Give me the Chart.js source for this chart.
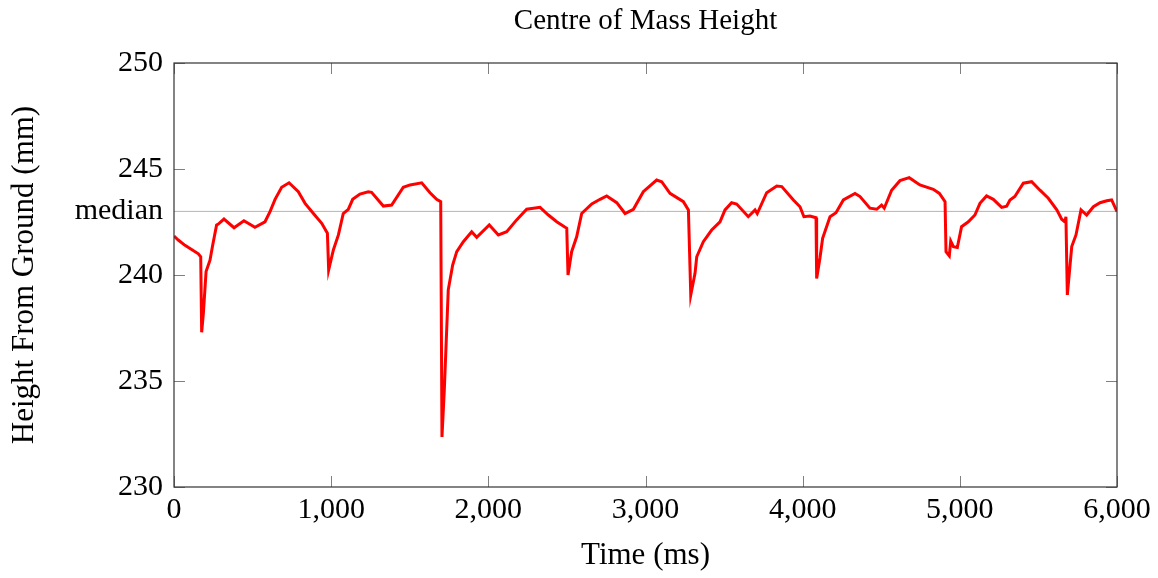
<!DOCTYPE html>
<html>
<head>
<meta charset="utf-8">
<script src="https://cdn.jsdelivr.net/npm/chart.js@4.4.0/dist/chart.umd.min.js"></script>
<style>
  body { margin: 0; background: #fff; }
  #wrap { width: 1158px; height: 578px; }
</style>
</head>
<body>
<div id="wrap"><canvas id="chart" width="1158" height="578"></canvas></div>
<script>
// time in ms
const times = [
  0, 27, 70, 112, 155, 170, 176, 187, 204, 229,
  246, 271, 282, 318, 382, 445, 515, 579, 611, 643,
  685, 732, 791, 834, 887, 940, 976, 984, 1014, 1046,
  1077, 1109, 1137, 1183, 1236, 1257, 1332, 1385, 1459, 1502,
  1576, 1629, 1671, 1697, 1705, 1720, 1745, 1773, 1799, 1841,
  1894, 1926, 2006, 2064, 2117, 2180, 2244, 2329, 2382, 2435,
  2499, 2507, 2530, 2562, 2594, 2658, 2711, 2753, 2817, 2870,
  2923, 2986, 3071, 3103, 3156, 3241, 3273, 3288, 3315, 3326,
  3368, 3421, 3474, 3506, 3548, 3580, 3654, 3697, 3711, 3771,
  3835, 3867, 3941, 3983, 4008, 4046, 4085, 4089, 4110, 4127,
  4174, 4212, 4259, 4333, 4365, 4428, 4471, 4502, 4519, 4566,
  4619, 4678, 4746, 4831, 4870, 4906, 4912, 4933, 4942, 4959,
  4984, 5011, 5054, 5096, 5128, 5170, 5213, 5266, 5298, 5319,
  5350, 5404, 5457, 5510, 5563, 5617, 5648, 5669, 5675, 5684,
  5712, 5739, 5771, 5807, 5850, 5892, 5935, 5966, 6000
];

// centre of mass height in mm
const heights = [
  241.84, 241.65, 241.4, 241.2, 241.0, 240.86, 237.3, 238.2, 240.16, 240.7,
  241.4, 242.36, 242.4, 242.64, 242.23, 242.56, 242.25, 242.51, 242.99, 243.57,
  244.14, 244.35, 243.93, 243.38, 242.9, 242.44, 241.97, 240.24, 241.18, 241.89,
  242.9, 243.1, 243.57, 243.82, 243.93, 243.9, 243.25, 243.3, 244.14, 244.25,
  244.35, 243.88, 243.57, 243.46, 232.36, 234.6, 239.3, 240.47, 241.1, 241.57,
  242.04, 241.78, 242.36, 241.89, 242.04, 242.6, 243.1, 243.19, 242.83, 242.51,
  242.2, 240.0, 241.1, 241.8, 242.9, 243.35, 243.57, 243.73, 243.41, 242.9,
  243.1, 243.93, 244.48, 244.4, 243.85, 243.46, 243.07, 239.06, 240.08, 240.86,
  241.57, 242.12, 242.51, 243.07, 243.41, 243.35, 242.75, 243.07, 242.9, 243.88,
  244.2, 244.17, 243.54, 243.22, 242.75, 242.78, 242.7, 239.84, 240.8, 241.73,
  242.75, 242.94, 243.54, 243.85, 243.7, 243.15, 243.1, 243.3, 243.15, 244.0,
  244.45, 244.59, 244.25, 244.04, 243.85, 243.46, 241.1, 240.9, 241.6, 241.34,
  241.3, 242.28, 242.51, 242.83, 243.38, 243.73, 243.57, 243.19, 243.25, 243.54,
  243.7, 244.33, 244.4, 244.0, 243.62, 243.07, 242.63, 242.5, 242.75, 239.06,
  241.34, 241.89, 243.07, 242.83, 243.22, 243.41, 243.5, 243.54, 242.99
];

const xTicks = [0, 1000, 2000, 3000, 4000, 5000, 6000];
const yTicks = [230, 235, 240, 245, 250];
const median = 243;
const chartTitle = 'Centre of Mass Height';

const serif = "'Liberation Serif', 'DejaVu Serif', serif";

// pgfplots-like frame: box, inward ticks on all sides, median grid line, title over plot area
const framePlugin = {
  id: 'frame',
  beforeDatasetsDraw(chart) {
    const { ctx, chartArea: a, scales: { y } } = chart;
    const py = y.getPixelForValue(median);
    ctx.save();
    ctx.strokeStyle = '#b4b4b4';
    ctx.lineWidth = 1;
    ctx.beginPath();
    ctx.moveTo(a.left, py);
    ctx.lineTo(a.right, py);
    ctx.stroke();
    ctx.restore();
  },
  afterDatasetsDraw(chart) {
    const { ctx, chartArea: a, scales: { x, y } } = chart;
    const len = 11;
    ctx.save();
    ctx.strokeStyle = '#808080';
    ctx.lineWidth = 1;
    ctx.beginPath();
    xTicks.forEach(v => {
      const px = Math.round(x.getPixelForValue(v)) + 0.5;
      ctx.moveTo(px, a.bottom); ctx.lineTo(px, a.bottom - len);
      ctx.moveTo(px, a.top); ctx.lineTo(px, a.top + len);
    });
    yTicks.forEach(v => {
      const py = Math.round(y.getPixelForValue(v)) + 0.5;
      ctx.moveTo(a.left, py); ctx.lineTo(a.left + len, py);
      ctx.moveTo(a.right, py); ctx.lineTo(a.right - len, py);
    });
    ctx.stroke();
    ctx.strokeStyle = '#333';
    ctx.lineWidth = 1.2;
    ctx.strokeRect(a.left, a.top, a.right - a.left, a.bottom - a.top);

    ctx.fillStyle = '#000';
    ctx.font = '29px ' + serif;
    ctx.textAlign = 'center';
    ctx.textBaseline = 'middle';
    ctx.fillText(chartTitle, (a.left + a.right) / 2, 21);
    ctx.restore();
  }
};

new Chart(document.getElementById('chart'), {
  type: 'line',
  data: {
    datasets: [{
      data: times.map((t, i) => ({ x: t, y: heights[i] })),
      borderColor: '#ff0000',
      borderWidth: 3,
      pointRadius: 0,
      tension: 0,
      fill: false
    }]
  },
  options: {
    responsive: false,
    animation: false,
    layout: { padding: { left: 0, right: 41, top: 63, bottom: 0 } },
    plugins: {
      legend: { display: false },
      tooltip: { enabled: false },
      title: { display: false }
    },
    scales: {
      x: {
        type: 'linear',
        min: 0,
        max: 6000,
        afterFit: s => { s.height = 91; },
        afterBuildTicks: s => { s.ticks = xTicks.map(v => ({ value: v })); },
        grid: { display: false, drawTicks: false },
        border: { display: false },
        ticks: {
          color: '#000',
          padding: 5,
          maxRotation: 0,
          font: { family: serif, size: 30 },
          callback: v => v.toLocaleString('en-US')
        },
        title: {
          display: true,
          text: 'Time (ms)',
          color: '#000',
          font: { family: serif, size: 31, lineHeight: 1.2 },
          padding: { top: 0, bottom: 4 }
        }
      },
      y: {
        min: 230,
        max: 250,
        afterFit: s => { s.width = 174; },
        afterBuildTicks: s => {
          s.ticks = yTicks.concat([median]).sort((p, q) => p - q).map(v => ({ value: v }));
        },
        grid: { display: false, drawTicks: false },
        border: { display: false },
        ticks: {
          color: '#000',
          padding: 11,
          font: { family: serif, size: 30 },
          callback: v => (v === median ? 'median' : v)
        },
        title: {
          display: true,
          text: 'Height From Ground (mm)',
          color: '#000',
          font: { family: serif, size: 31, lineHeight: 1.2 },
          padding: { top: 6, bottom: 0 }
        }
      }
    }
  },
  plugins: [framePlugin]
});
</script>
</body>
</html>
